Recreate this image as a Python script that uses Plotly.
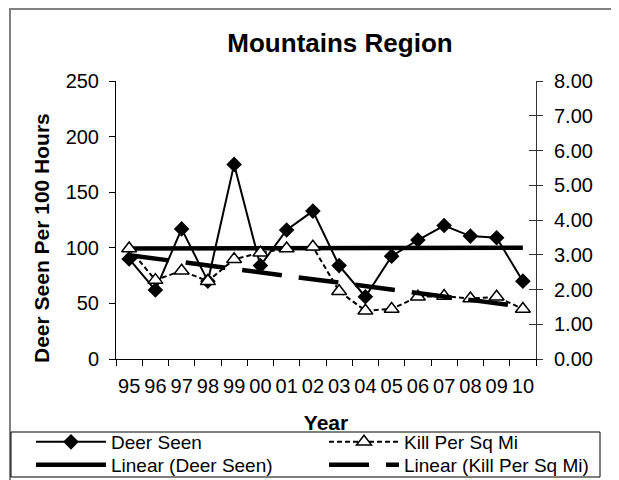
import numpy as np
import plotly.graph_objects as go

years = ["95", "96", "97", "98", "99", "00", "01", "02", "03", "04", "05", "06", "07", "08", "09", "10"]
deer_seen = [90, 62, 117, 70, 175, 84, 116, 133, 84, 56, 92.5, 107, 120, 110.5, 109, 70]
kill_per_sq_mi = [3.18, 2.27, 2.54, 2.24, 2.87, 3.06, 3.18, 3.23, 1.95, 1.39, 1.44, 1.79, 1.81, 1.74, 1.79, 1.44]

idx = np.arange(len(years))
deer_fit = np.polyval(np.polyfit(idx, deer_seen, 1), idx)
kill_fit = np.polyval(np.polyfit(idx, kill_per_sq_mi, 1), idx)

FONT = "Liberation Sans, Arial, sans-serif"

# page body has an 8px margin; the figure is sized so it fits the window exactly
OFF = 8
W, H = 619 - OFF, 480 - OFF
PL, PR, PT, PB = 116, 536, 81, 359          # plot area in window pixels
L, T = PL - OFF, PT - OFF
R, B = W - (PR - OFF), H - (PB - OFF)
pw, ph = PR - PL, PB - PT


def px_x(x):
    return (x - PL) / pw


def px_y(y):
    return (PB - y) / ph


fig = go.Figure()
fig.add_trace(go.Scatter(
    x=years, y=deer_seen, name="Deer Seen", mode="lines+markers",
    line=dict(color="black", width=2),
    marker=dict(symbol="diamond", size=12, color="black"),
    legend="legend", yaxis="y"))
fig.add_trace(go.Scatter(
    x=years, y=kill_per_sq_mi, name="Kill Per Sq Mi", mode="lines+markers",
    line=dict(color="black", width=2, dash="5px,3px"),
    marker=dict(symbol="triangle-up", size=13, color="white", line=dict(color="black", width=1.5)),
    legend="legend2", yaxis="y2"))
fig.add_trace(go.Scatter(
    x=years, y=deer_fit, name="Linear (Deer Seen)", mode="lines",
    line=dict(color="black", width=4.5),
    legend="legend3", yaxis="y"))
fig.add_trace(go.Scatter(
    x=years, y=kill_fit, name="Linear (Kill Per Sq Mi)", mode="lines",
    line=dict(color="black", width=4.5, dash="40px,17px"),
    legend="legend4", yaxis="y2"))
# carrier for the inner half of the right-axis cross ticks
fig.add_trace(go.Scatter(
    x=years, y=kill_per_sq_mi, mode="lines", line=dict(width=0), opacity=0,
    showlegend=False, hoverinfo="skip", yaxis="y3"))

legend_common = dict(orientation="v", xanchor="left", yanchor="top", borderwidth=0,
                     bgcolor="rgba(0,0,0,0)", font=dict(size=19, family=FONT), itemwidth=70)

ROW1_TOP, ROW2_TOP = 423, 446
COL1_X, COL2_X = 31, 324

fig.update_layout(
    width=W, height=H,
    margin=dict(l=L, r=R, t=T, b=B, autoexpand=False),
    paper_bgcolor="white", plot_bgcolor="white",
    font=dict(family=FONT, size=20, color="black"),
    title=dict(text="<b>Mountains Region</b>", x=(340 - OFF) / W, xanchor="center",
               y=1 - (43 - OFF) / H, yanchor="middle", font=dict(size=26)),
    xaxis=dict(type="category", range=[-0.5, 15.5], showgrid=False, zeroline=False,
               showline=True, linecolor="black", linewidth=1, tickangle=0,
               ticks="outside", tickson="boundaries", ticklen=6, tickcolor="black",
               tickfont=dict(size=20), ticklabelstandoff=9,
               title=dict(text="<b>Year</b>", font=dict(size=21), standoff=19)),
    yaxis=dict(range=[0, 250], dtick=50, showgrid=False, zeroline=False,
               showline=True, linecolor="black", linewidth=1,
               ticks="outside", ticklen=6, tickcolor="black",
               tickfont=dict(size=20), ticklabelstandoff=6),
    yaxis2=dict(range=[0, 8], dtick=1, tickformat=".2f", overlaying="y", side="right",
                showgrid=False, zeroline=False,
                showline=True, linecolor="#333333", linewidth=1,
                ticks="outside", ticklen=6, tickcolor="#333333",
                tickfont=dict(size=20), ticklabelstandoff=7),
    yaxis3=dict(range=[0, 8], dtick=1, overlaying="y", side="right", anchor="x",
                showgrid=False, zeroline=False, showline=False,
                ticks="inside", ticklen=7, tickcolor="#333333", showticklabels=False),
    legend=dict(x=px_x(COL1_X), y=px_y(ROW1_TOP), **legend_common),
    legend2=dict(x=px_x(COL2_X), y=px_y(ROW1_TOP), **legend_common),
    legend3=dict(x=px_x(COL1_X), y=px_y(ROW2_TOP), **legend_common),
    legend4=dict(x=px_x(COL2_X), y=px_y(ROW2_TOP), **legend_common),
    annotations=[dict(text="<b>Deer Seen Per 100 Hours</b>", textangle=-90,
                      xref="paper", yref="paper", x=px_x(41), y=px_y(238),
                      xanchor="center", yanchor="middle", showarrow=False,
                      font=dict(size=21))],
    shapes=[
        dict(type="rect", xref="paper", yref="paper",
             x0=px_x(10), x1=px_x(615), y0=px_y(9), y1=px_y(495),
             line=dict(color="#808080", width=2), layer="below"),
        dict(type="rect", xref="paper", yref="paper",
             x0=px_x(11), x1=px_x(600), y0=px_y(432), y1=px_y(477),
             line=dict(color="black", width=1), layer="below"),
    ],
)

fig.write_html("out.html")
